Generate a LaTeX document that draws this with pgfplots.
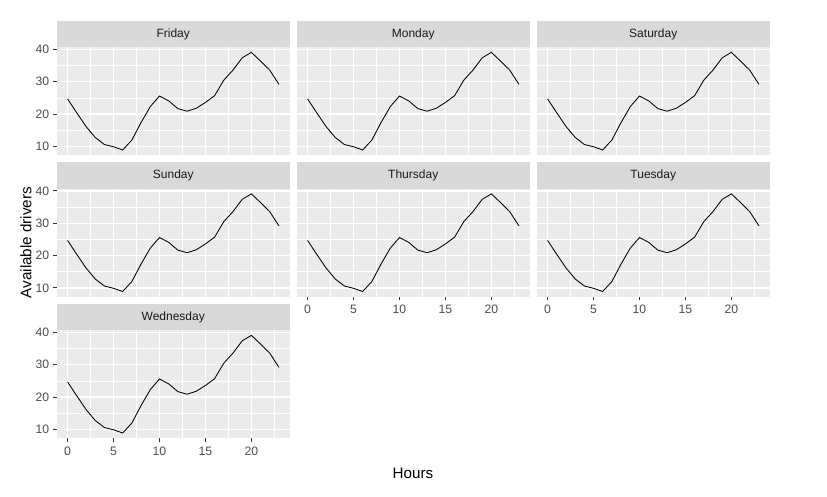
\documentclass[border=0pt]{standalone}
\usepackage{pgfplots}
\pgfplotsset{compat=1.18}
\usepackage{pgfplotstable}
\usepackage{fontspec}
\setmainfont{Liberation Sans}
\definecolor{panelbg}{HTML}{EBEBEB}
\definecolor{stripbg}{HTML}{D9D9D9}
\definecolor{ticklab}{HTML}{4D4D4D}
\definecolor{tickcol}{HTML}{333333}
\definecolor{striptext}{HTML}{1A1A1A}

\pgfplotstableread{
h v
0 24.7
1 20.4
2 16.2
3 12.8
4 10.6
5 9.9
6 8.9
7 12.0
8 17.4
9 22.3
10 25.6
11 24.1
12 21.7
13 20.9
14 21.8
15 23.6
16 25.7
17 30.5
18 33.6
19 37.4
20 39.1
21 36.4
22 33.6
23 29.2
}\drivers

\pgfplotsset{
  panel/.style={
    scale only axis, width=232.5pt, height=108pt,
    xmin=-1.15, xmax=24.15, ymin=7.35, ymax=40.75,
    axis background/.style={fill=panelbg},
    axis line style={draw=none},
    xtick={0,5,10,15,20}, ytick={10,20,30,40},
    minor xtick={2.5,7.5,12.5,17.5,22.5}, minor ytick={15,25,35},
    grid=both,
    major grid style={white, line width=1.3pt},
    minor grid style={white, line width=0.7pt},
    tick align=outside, major tick length=3.7pt, minor tick length=0pt,
    tick style={tickcol, line width=1.1pt},
    tick pos=left,
    ticklabel style={font=\fontsize{12.2}{13}\selectfont, text=ticklab},
    xticklabel style={yshift=-1.5pt},
    yticklabel style={xshift=-0.5pt},
    scaled ticks=false,
    /pgf/number format/assume math mode=true,
  },
  nox/.style={xmajorticks=false},
  noy/.style={ymajorticks=false},
}

\newcommand{\strip}[3]{%
  \fill[stripbg] (#1pt,{-(#2)*1pt}) rectangle ({(#1+232.5)*1pt},{-(#2+26.5)*1pt});
  \node[text=striptext, font=\fontsize{12}{13}\selectfont, anchor=center]
    at ({(#1+116.25)*1pt},{-(#2+13.5)*1pt}) {#3};}

\begin{document}
\begin{tikzpicture}
\fill[white] (0,0) rectangle (827pt,-496pt);
\path[use as bounding box] (0,0) rectangle (827pt,-496pt);

% Row 1
\begin{axis}[panel, nox, at={(57pt,-155pt)}]
  \addplot[black, line width=0.85pt] table[x=h, y=v] {\drivers};
\end{axis}
\begin{axis}[panel, nox, noy, at={(297pt,-155pt)}]
  \addplot[black, line width=0.85pt] table[x=h, y=v] {\drivers};
\end{axis}
\begin{axis}[panel, nox, noy, at={(537pt,-155pt)}]
  \addplot[black, line width=0.85pt] table[x=h, y=v] {\drivers};
\end{axis}
% Row 2
\begin{axis}[panel, nox, at={(57pt,-296.5pt)}]
  \addplot[black, line width=0.85pt] table[x=h, y=v] {\drivers};
\end{axis}
\begin{axis}[panel, noy, at={(297pt,-296.5pt)}]
  \addplot[black, line width=0.85pt] table[x=h, y=v] {\drivers};
\end{axis}
\begin{axis}[panel, noy, at={(537pt,-296.5pt)}]
  \addplot[black, line width=0.85pt] table[x=h, y=v] {\drivers};
\end{axis}
% Row 3
\begin{axis}[panel, at={(57pt,-438pt)}]
  \addplot[black, line width=0.85pt] table[x=h, y=v] {\drivers};
\end{axis}

\strip{57}{20.5}{Friday}
\strip{297}{20.5}{Monday}
\strip{537}{20.5}{Saturday}
\strip{57}{162}{Sunday}
\strip{297}{162}{Thursday}
\strip{537}{162}{Tuesday}
\strip{57}{303.5}{Wednesday}

\node[font=\fontsize{15.2}{16}\selectfont, rotate=90] at (26pt,-242.5pt) {Available drivers};
\node[font=\fontsize{15.2}{16}\selectfont] at (413pt,-473pt) {Hours};
\end{tikzpicture}
\end{document}
